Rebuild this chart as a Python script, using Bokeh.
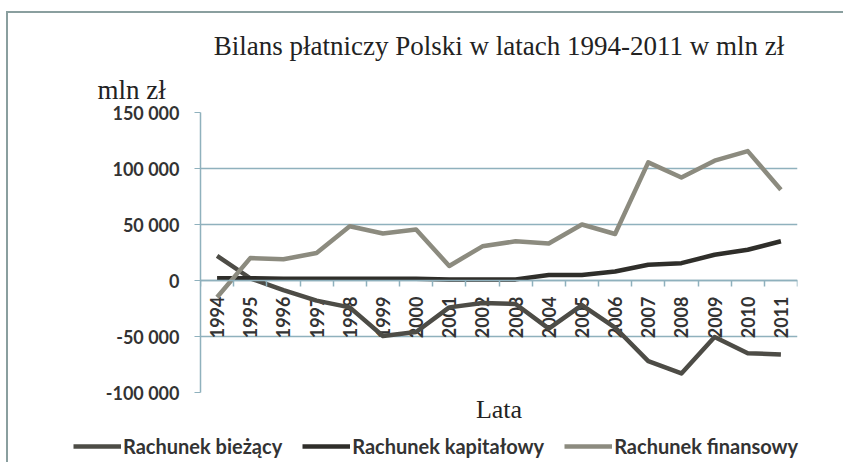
import math
from bokeh.plotting import figure
from bokeh.layouts import column
from bokeh.models import (Range1d, FixedTicker, Legend, LegendItem,
                          ColumnDataSource, Title)
from bokeh.core.properties import value
from bokeh.embed import file_html
from bokeh.resources import INLINE

years = ["1994", "1995", "1996", "1997", "1998", "1999", "2000", "2001", "2002",
         "2003", "2004", "2005", "2006", "2007", "2008", "2009", "2010", "2011"]
biezacy = [22000, 2000, -8500, -18000, -24000, -49500, -46000, -24000, -20000,
           -21000, -43000, -22000, -42000, -72000, -83000, -50500, -65000, -66000]
kapitalowy = [2000, 2000, 1500, 1500, 1500, 1500, 1500, 1000, 1000,
              1000, 5000, 5000, 8000, 14000, 15500, 23000, 27500, 35000]
finansowy = [-15000, 20000, 19000, 24500, 48500, 42000, 45500, 13000, 30500,
             35000, 33000, 50000, 41500, 105500, 92000, 107000, 115500, 81000]
y_ticks = [-100000, -50000, 0, 50000, 100000, 150000]
y_tick_labels = ["-100 000", "-50 000", "0", "50 000", "100 000", "150 000"]
series_names = ["Rachunek bieżący", "Rachunek kapitałowy", "Rachunek finansowy"]
title_text = "Bilans płatniczy Polski w latach 1994-2011 w mln zł"
y_unit = "mln zł"
x_label = "Lata"

series = [biezacy, kapitalowy, finansowy]
centers = [i + 0.5 for i in range(len(years))]
grid_color = "#8fb1bd"
frame_color = "#8a9f9f"
text_color = "#333333"
sans = "Lato"
serif = "Liberation Serif"
colors = ["#4d4c46", "#2f2e2a", "#8c8b7f"]

p = figure(width=843, height=432, output_backend="svg", toolbar_location=None,
           x_range=Range1d(0, len(years)), y_range=Range1d(-100000, 150000),
           min_border_left=200, min_border_right=46, min_border_top=112,
           min_border_bottom=40, title=title_text)
p.frame_align = False
p.outline_line_color = None
p.background_fill_color = "white"
p.border_fill_alpha = 0
p.styles = {
    "background": (f"linear-gradient({frame_color},{frame_color}) 6px 11px / 837px 2px no-repeat, "
                   f"linear-gradient({frame_color},{frame_color}) 6px 11px / 2px 421px no-repeat, "
                   "white")
}

p.title.align = "center"
p.title.standoff = 10
p.title.text_font = serif
p.title.text_font_size = "27px"
p.title.text_font_style = "normal"
p.title.text_color = "#222222"
p.add_layout(Title(text=y_unit, align="left", offset=-103, standoff=15, text_font=serif,
                   text_font_size="27px", text_font_style="normal",
                   text_color="#222222"), "above")

# y axis
p.yaxis.ticker = FixedTicker(ticks=y_ticks)
p.yaxis.major_label_overrides = {t: l for t, l in zip(y_ticks, y_tick_labels)}
p.yaxis.minor_tick_line_color = None
p.yaxis.major_tick_in = 0
p.yaxis.major_tick_out = 6
p.yaxis.major_tick_line_color = grid_color
p.yaxis.axis_line_color = grid_color
p.yaxis.axis_line_width = 1.5
p.yaxis.major_label_standoff = 15
p.yaxis.major_label_text_font = sans
p.yaxis.major_label_text_font_style = "bold"
p.yaxis.major_label_text_font_size = "18px"
p.yaxis.major_label_text_color = text_color

# x axis crossing at zero: only tick marks between categories (no axis labels)
p.xaxis.fixed_location = 0
p.xaxis.ticker = FixedTicker(ticks=[], minor_ticks=list(range(len(years) + 1)))
p.xaxis.major_label_standoff = 0
p.xaxis.major_tick_line_color = None
p.xaxis.minor_tick_in = 0
p.xaxis.minor_tick_out = 6
p.xaxis.minor_tick_line_color = grid_color
p.xaxis.minor_tick_line_width = 1.5
p.xaxis.axis_line_color = grid_color
p.xaxis.axis_line_width = 1.5

p.xgrid.grid_line_color = None
p.ygrid.ticker = FixedTicker(ticks=y_ticks)
p.ygrid.grid_line_color = grid_color
p.ygrid.grid_line_width = 1.5

# year labels below zero line
src = ColumnDataSource(dict(x=centers, y=[0] * len(years), t=years))
p.text(x="x", y="y", text="t", source=src, angle=math.pi / 2,
       text_align="right", text_baseline="middle", y_offset=16,
       text_font=value(sans), text_font_style="bold", text_font_size="18px",
       text_color=text_color)

for vals, c in zip(series, colors):
    p.line(centers, vals, line_width=4.5, line_color=c, line_join="round")

p.add_layout(Title(text=x_label, align="center", standoff=0, text_font=serif,
                   text_font_size="26px", text_font_style="normal",
                   text_color="#222222"), "below")

# legend strip (its own lines lie outside its view; only the legend shows)
p2 = figure(width=843, height=38, output_backend="svg", toolbar_location=None,
            x_axis_type=None, y_axis_type=None, min_border=0,
            x_range=Range1d(100, 101), y_range=Range1d(0, 1))
p2.frame_align = False
p2.outline_line_color = None
p2.grid.visible = False
p2.border_fill_alpha = 0
p2.background_fill_alpha = 0
p2.styles = {
    "background": (f"linear-gradient({frame_color},{frame_color}) 6px 0px / 2px 30px no-repeat, "
                   "white")
}
items = []
for n, vals, c in zip(series_names, series, colors):
    r = p2.line(centers, vals, line_width=4.5, line_color=c)
    items.append(LegendItem(label=n, renderers=[r]))
legend = Legend(items=items, orientation="horizontal", location=(73, 12),
                padding=0, margin=0, spacing=20, glyph_width=48, glyph_height=20,
                label_standoff=2, label_height=20,
                border_line_color=None, background_fill_alpha=0,
                label_text_font=sans, label_text_font_style="bold",
                label_text_font_size="20px", label_text_color=text_color)
p2.add_layout(legend, "center")

open("out.html", "w").write(file_html(column(p, p2, spacing=0), INLINE))
